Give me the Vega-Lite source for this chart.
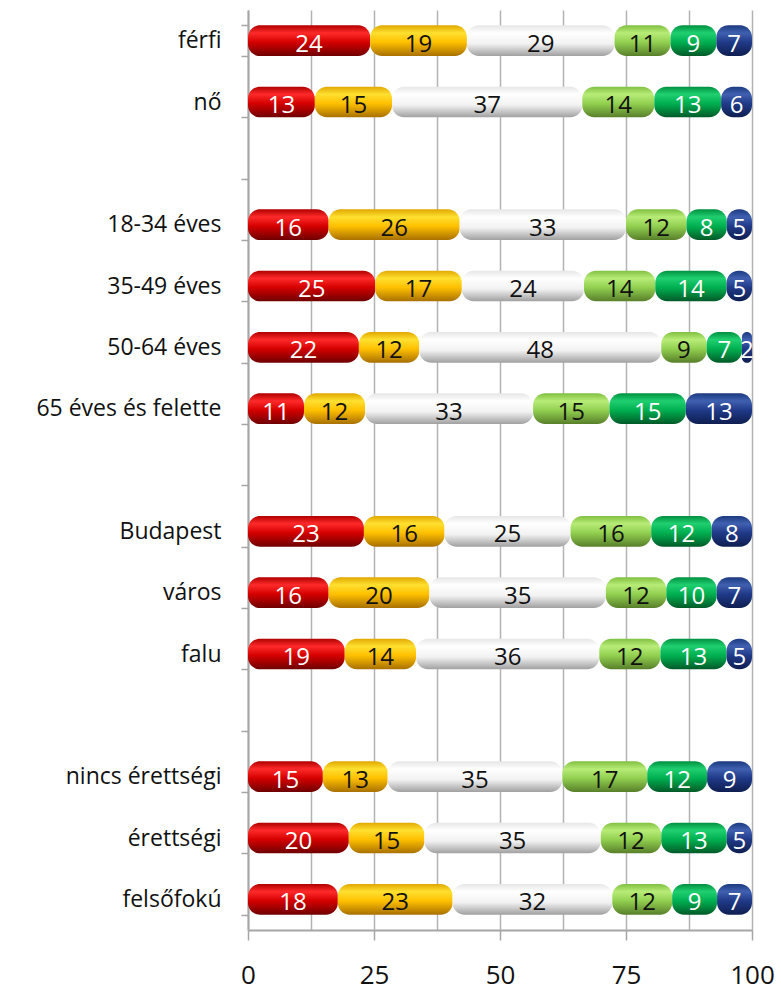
{
  "$schema": "https://vega.github.io/schema/vega-lite/v6.json",
  "width": 504,
  "height": 920,
  "autosize": {"type": "none"},
  "padding": {"left": 248, "top": 10, "right": 29, "bottom": 66},
  "background": "white",
  "config": {"view": {"stroke": null}, "font": "Open Sans"},
  "data": {"values": [
    {"g": "férfi", "k": 1, "v": 24}, {"g": "férfi", "k": 2, "v": 19}, {"g": "férfi", "k": 3, "v": 29}, {"g": "férfi", "k": 4, "v": 11}, {"g": "férfi", "k": 5, "v": 9}, {"g": "férfi", "k": 6, "v": 7},
    {"g": "nő", "k": 1, "v": 13}, {"g": "nő", "k": 2, "v": 15}, {"g": "nő", "k": 3, "v": 37}, {"g": "nő", "k": 4, "v": 14}, {"g": "nő", "k": 5, "v": 13}, {"g": "nő", "k": 6, "v": 6},
    {"g": "18-34 éves", "k": 1, "v": 16}, {"g": "18-34 éves", "k": 2, "v": 26}, {"g": "18-34 éves", "k": 3, "v": 33}, {"g": "18-34 éves", "k": 4, "v": 12}, {"g": "18-34 éves", "k": 5, "v": 8}, {"g": "18-34 éves", "k": 6, "v": 5},
    {"g": "35-49 éves", "k": 1, "v": 25}, {"g": "35-49 éves", "k": 2, "v": 17}, {"g": "35-49 éves", "k": 3, "v": 24}, {"g": "35-49 éves", "k": 4, "v": 14}, {"g": "35-49 éves", "k": 5, "v": 14}, {"g": "35-49 éves", "k": 6, "v": 5},
    {"g": "50-64 éves", "k": 1, "v": 22}, {"g": "50-64 éves", "k": 2, "v": 12}, {"g": "50-64 éves", "k": 3, "v": 48}, {"g": "50-64 éves", "k": 4, "v": 9}, {"g": "50-64 éves", "k": 5, "v": 7}, {"g": "50-64 éves", "k": 6, "v": 2},
    {"g": "65 éves és felette", "k": 1, "v": 11}, {"g": "65 éves és felette", "k": 2, "v": 12}, {"g": "65 éves és felette", "k": 3, "v": 33}, {"g": "65 éves és felette", "k": 4, "v": 15}, {"g": "65 éves és felette", "k": 5, "v": 15}, {"g": "65 éves és felette", "k": 6, "v": 13},
    {"g": "Budapest", "k": 1, "v": 23}, {"g": "Budapest", "k": 2, "v": 16}, {"g": "Budapest", "k": 3, "v": 25}, {"g": "Budapest", "k": 4, "v": 16}, {"g": "Budapest", "k": 5, "v": 12}, {"g": "Budapest", "k": 6, "v": 8},
    {"g": "város", "k": 1, "v": 16}, {"g": "város", "k": 2, "v": 20}, {"g": "város", "k": 3, "v": 35}, {"g": "város", "k": 4, "v": 12}, {"g": "város", "k": 5, "v": 10}, {"g": "város", "k": 6, "v": 7},
    {"g": "falu", "k": 1, "v": 19}, {"g": "falu", "k": 2, "v": 14}, {"g": "falu", "k": 3, "v": 36}, {"g": "falu", "k": 4, "v": 12}, {"g": "falu", "k": 5, "v": 13}, {"g": "falu", "k": 6, "v": 5},
    {"g": "nincs érettségi", "k": 1, "v": 15}, {"g": "nincs érettségi", "k": 2, "v": 13}, {"g": "nincs érettségi", "k": 3, "v": 35}, {"g": "nincs érettségi", "k": 4, "v": 17}, {"g": "nincs érettségi", "k": 5, "v": 12}, {"g": "nincs érettségi", "k": 6, "v": 9},
    {"g": "érettségi", "k": 1, "v": 20}, {"g": "érettségi", "k": 2, "v": 15}, {"g": "érettségi", "k": 3, "v": 35}, {"g": "érettségi", "k": 4, "v": 12}, {"g": "érettségi", "k": 5, "v": 13}, {"g": "érettségi", "k": 6, "v": 5},
    {"g": "felsőfokú", "k": 1, "v": 18}, {"g": "felsőfokú", "k": 2, "v": 23}, {"g": "felsőfokú", "k": 3, "v": 32}, {"g": "felsőfokú", "k": 4, "v": 12}, {"g": "felsőfokú", "k": 5, "v": 9}, {"g": "felsőfokú", "k": 6, "v": 7}
  ]},
  "transform": [
    {"stack": "v", "groupby": ["g"], "sort": [{"field": "k"}], "offset": "normalize", "as": ["x0", "x1"]}
  ],
  "encoding": {
    "y": {
      "field": "g", "type": "nominal", "title": null,
      "scale": {"domain": ["férfi", "nő", " ", "18-34 éves", "35-49 éves", "50-64 éves", "65 éves és felette", "  ", "Budapest", "város", "falu", "   ", "nincs érettségi", "érettségi", "felsőfokú"], "paddingInner": 0.5, "paddingOuter": 0.25},
      "axis": {"tickBand": "extent", "tickSize": 7, "tickColor": "#a6a6a6", "tickWidth": 1.5, "domainColor": "#a6a6a6", "domainWidth": 2, "labelFontSize": 23, "labelColor": "#111111", "labelPadding": 20, "labelFont": "Open Sans", "grid": false, "labelLimit": 300}
    }
  },
  "layer": [
    {
      "transform": [{"filter": "datum.k == 1"}],
      "mark": {"type": "bar", "cornerRadius": 12, "fill": {"gradient": "linear", "x1": 0, "y1": 0, "x2": 0, "y2": 1, "stops": [{"offset": 0, "color": "#b00000"}, {"offset": 0.25, "color": "#ff2a2a"}, {"offset": 0.55, "color": "#d40000"}, {"offset": 1, "color": "#6e0000"}]}},
      "encoding": {
        "x": {"field": "x0", "type": "quantitative", "title": null,
          "scale": {"domain": [0, 1], "nice": false, "zero": true},
          "axis": {"values": [0, 0.125, 0.25, 0.375, 0.5, 0.625, 0.75, 0.875, 1], "grid": true, "gridColor": "#b3b3b3", "gridWidth": 1.5,
            "tickSize": 10, "tickColor": "#a6a6a6", "tickWidth": 1.5,
            "tickOpacity": {"condition": {"test": "round(datum.value*100) % 25 == 0", "value": 1}, "value": 0},
            "labelExpr": "round(datum.value*100) % 25 == 0 ? '' + round(datum.value*100) : ''",
            "labelFontSize": 26, "labelColor": "#111111", "labelPadding": 22, "labelFont": "Open Sans", "labelFlush": false,
            "domainColor": "#a6a6a6", "domainWidth": 2}},
        "x2": {"field": "x1"}
      }
    },
    {
      "transform": [{"filter": "datum.k == 2"}],
      "mark": {"type": "bar", "cornerRadius": 12, "fill": {"gradient": "linear", "x1": 0, "y1": 0, "x2": 0, "y2": 1, "stops": [{"offset": 0, "color": "#e0a800"}, {"offset": 0.25, "color": "#ffe030"}, {"offset": 0.55, "color": "#ffc000"}, {"offset": 1, "color": "#a87000"}]}},
      "encoding": {"x": {"field": "x0", "type": "quantitative", "title": null}, "x2": {"field": "x1"}}
    },
    {
      "transform": [{"filter": "datum.k == 3"}],
      "mark": {"type": "bar", "cornerRadius": 12, "fill": {"gradient": "linear", "x1": 0, "y1": 0, "x2": 0, "y2": 1, "stops": [{"offset": 0, "color": "#e6e6e6"}, {"offset": 0.25, "color": "#ffffff"}, {"offset": 0.6, "color": "#f2f2f2"}, {"offset": 1, "color": "#a0a0a0"}]}},
      "encoding": {"x": {"field": "x0", "type": "quantitative", "title": null}, "x2": {"field": "x1"}}
    },
    {
      "transform": [{"filter": "datum.k == 4"}],
      "mark": {"type": "bar", "cornerRadius": 12, "fill": {"gradient": "linear", "x1": 0, "y1": 0, "x2": 0, "y2": 1, "stops": [{"offset": 0, "color": "#80c040"}, {"offset": 0.25, "color": "#b8ec78"}, {"offset": 0.55, "color": "#92d050"}, {"offset": 1, "color": "#587f2a"}]}},
      "encoding": {"x": {"field": "x0", "type": "quantitative", "title": null}, "x2": {"field": "x1"}}
    },
    {
      "transform": [{"filter": "datum.k == 5"}],
      "mark": {"type": "bar", "cornerRadius": 12, "fill": {"gradient": "linear", "x1": 0, "y1": 0, "x2": 0, "y2": 1, "stops": [{"offset": 0, "color": "#009040"}, {"offset": 0.25, "color": "#20d070"}, {"offset": 0.55, "color": "#00b050"}, {"offset": 1, "color": "#005a28"}]}},
      "encoding": {"x": {"field": "x0", "type": "quantitative", "title": null}, "x2": {"field": "x1"}}
    },
    {
      "transform": [{"filter": "datum.k == 6"}],
      "mark": {"type": "bar", "cornerRadius": 12, "fill": {"gradient": "linear", "x1": 0, "y1": 0, "x2": 0, "y2": 1, "stops": [{"offset": 0, "color": "#1c3a80"}, {"offset": 0.25, "color": "#4060b0"}, {"offset": 0.55, "color": "#203a88"}, {"offset": 1, "color": "#0e1e50"}]}},
      "encoding": {"x": {"field": "x0", "type": "quantitative", "title": null}, "x2": {"field": "x1"}}
    },
    {
      "mark": {"type": "text", "fontSize": 24, "dy": 4, "font": "Open Sans"},
      "encoding": {
        "x": {"field": "v", "type": "quantitative", "stack": "normalize", "bandPosition": 0.5, "title": null},
        "order": {"field": "k"},
        "text": {"field": "v", "type": "quantitative"},
        "color": {"condition": {"test": "datum.k == 1 || datum.k >= 5", "value": "white"}, "value": "#111111"}
      }
    }
  ]
}
